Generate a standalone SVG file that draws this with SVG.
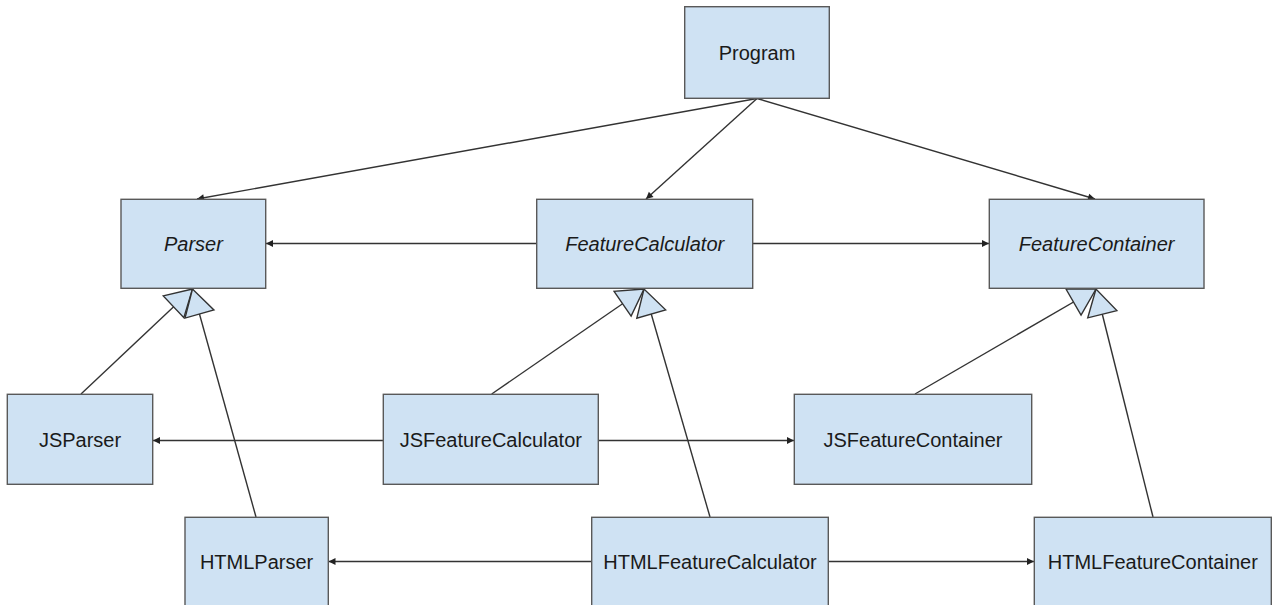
<svg xmlns="http://www.w3.org/2000/svg" width="1272" height="605" viewBox="0 0 1272 605">
  <style>
    .box { fill: #cfe2f3; stroke: #595959; stroke-width: 1.4; }
    .lbl { font-family: "Liberation Sans", Arial, sans-serif; font-size: 20px; fill: #1a1a1a; text-anchor: middle; }
    .abs { font-style: italic; }
    .assoc { stroke: #333; stroke-width: 1.4; fill: none; marker-end: url(#arrow); }
    .inherit { stroke: #333; stroke-width: 1.4; fill: none; marker-end: url(#hollow); }
  </style>
  <defs>
    <marker id="arrow" markerUnits="userSpaceOnUse" viewBox="-8 -5 9 10" refX="0" refY="0" markerWidth="9" markerHeight="10" orient="auto" overflow="visible">
      <path d="M0,0 L-7,-3.5 L-7,3.5 Z" fill="#222"/>
    </marker>
    <marker id="hollow" markerUnits="userSpaceOnUse" viewBox="-28 -17 30 34" refX="0" refY="0" markerWidth="30" markerHeight="34" orient="auto" overflow="visible">
      <path d="M0,0 L-26,-15 L-26,15 Z" fill="#cfe2f3" stroke="#333" stroke-width="1.4" stroke-linejoin="miter"/>
    </marker>
  </defs>

  <g id="connectors">
    <!-- associations -->
    <line class="assoc" x1="757" y1="98.5" x2="197" y2="199"/>
    <line class="assoc" x1="757" y1="98.5" x2="646" y2="199"/>
    <line class="assoc" x1="757" y1="98.5" x2="1095" y2="199"/>
    <line class="assoc" x1="536.7" y1="243.5" x2="266" y2="243.5"/>
    <line class="assoc" x1="752.7" y1="243.5" x2="989" y2="243.5"/>
    <line class="assoc" x1="383.3" y1="440.5" x2="153" y2="440.5"/>
    <line class="assoc" x1="598.3" y1="440.5" x2="794" y2="440.5"/>
    <line class="assoc" x1="591.7" y1="561.5" x2="328.5" y2="561.5"/>
    <line class="assoc" x1="828.3" y1="561.5" x2="1034" y2="561.5"/>
    <!-- generalisations -->
    <line class="inherit" x1="81" y1="394" x2="192.5" y2="289"/>
    <line class="inherit" x1="256" y1="517" x2="192.5" y2="289"/>
    <line class="inherit" x1="491.7" y1="394" x2="644" y2="289"/>
    <line class="inherit" x1="710" y1="517" x2="644" y2="289"/>
    <line class="inherit" x1="915" y1="394" x2="1096" y2="289"/>
    <line class="inherit" x1="1153" y1="517" x2="1096" y2="289"/>
  </g>

  <g id="program">
    <rect class="box" x="684.7" y="6.7" width="144.6" height="91.6"/>
    <text class="lbl" x="757" y="60">Program</text>
  </g>
  <g id="parser">
    <rect class="box" x="121" y="199.3" width="144.7" height="89"/>
    <text class="lbl abs" x="193.4" y="250.5">Parser</text>
  </g>
  <g id="featureCalculator">
    <rect class="box" x="536.7" y="199.3" width="216" height="89"/>
    <text class="lbl abs" x="644.7" y="250.5">FeatureCalculator</text>
  </g>
  <g id="featureContainer">
    <rect class="box" x="989.3" y="199.3" width="214.7" height="89"/>
    <text class="lbl abs" x="1096.6" y="250.5">FeatureContainer</text>
  </g>
  <g id="jsParser">
    <rect class="box" x="7.3" y="394.3" width="145.4" height="90"/>
    <text class="lbl" x="80" y="447">JSParser</text>
  </g>
  <g id="jsFeatureCalculator">
    <rect class="box" x="383.3" y="394.3" width="215" height="90"/>
    <text class="lbl" x="490.8" y="447">JSFeatureCalculator</text>
  </g>
  <g id="jsFeatureContainer">
    <rect class="box" x="794.3" y="394.3" width="237.4" height="90"/>
    <text class="lbl" x="913" y="447">JSFeatureContainer</text>
  </g>
  <g id="htmlParser">
    <rect class="box" x="185" y="517.3" width="143.3" height="90"/>
    <text class="lbl" x="256.6" y="569">HTMLParser</text>
  </g>
  <g id="htmlFeatureCalculator">
    <rect class="box" x="591.7" y="517.3" width="236.6" height="90"/>
    <text class="lbl" x="710" y="569">HTMLFeatureCalculator</text>
  </g>
  <g id="htmlFeatureContainer">
    <rect class="box" x="1034.3" y="517.3" width="237" height="90"/>
    <text class="lbl" x="1152.8" y="569">HTMLFeatureContainer</text>
  </g>
</svg>
